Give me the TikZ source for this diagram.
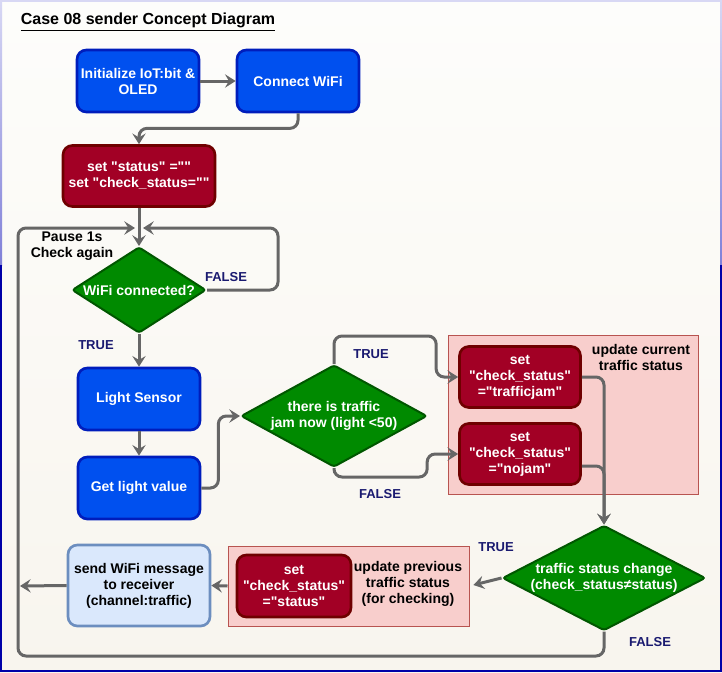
\documentclass[tikz,border=0pt]{standalone}
\usepackage{fontspec}
\setmainfont{Liberation Sans}[Ligatures=TeXOff]
\usetikzlibrary{calc,arrows.meta,shapes.geometric}

\definecolor{bgtop}{HTML}{FDFDFB}
\definecolor{bgbot}{HTML}{F8F5EE}
\definecolor{frametop}{HTML}{D8D8F4}
\definecolor{framemid}{HTML}{8080D8}
\definecolor{framebot}{HTML}{0000A8}
\definecolor{bluefill}{HTML}{0050EF}
\definecolor{blueline}{HTML}{001DBC}
\definecolor{redfill}{HTML}{A20025}
\definecolor{redline}{HTML}{6F0000}
\definecolor{greenfill}{HTML}{008A00}
\definecolor{greenline}{HTML}{005700}
\definecolor{sendfill}{HTML}{DAE8FC}
\definecolor{sendline}{HTML}{6C8EBF}
\definecolor{groupfill}{HTML}{F8CECC}
\definecolor{groupline}{HTML}{B85450}
\definecolor{arrowgray}{HTML}{666666}
\definecolor{labelnavy}{HTML}{1A1A70}

\begin{document}
\begin{tikzpicture}[x=0.75pt, y=-0.75pt,
	every node/.style={font=\fontsize{10.5}{12}\selectfont\bfseries, align=center},
	process/.style={rectangle, rounded corners=7pt, line width=2pt, text=white, inner sep=2pt},
	bluebox/.style={process, fill=bluefill, draw=blueline, minimum width=91.5pt, minimum height=46.5pt},
	redbox/.style={process, fill=redfill, draw=redline, minimum height=45.75pt},
	decision/.style={diamond, fill=greenfill, draw=greenline, line width=1.5pt, text=white, inner sep=0pt, rounded corners=2pt},
	groupbox/.style={rectangle, fill=groupfill, draw=groupline, line width=0.75pt},
	note/.style={text=black},
	answer/.style={text=labelnavy, font=\fontsize{9.75}{11}\selectfont\bfseries},
	flow/.style={draw=arrowgray, line width=2.25pt, rounded corners=6pt, -{Stealth[length=8pt, width=10pt, inset=3pt]}},
]

	% ---- page

	\useasboundingbox (0,0) rectangle (722,672);
	\shade[top color=bgtop, bottom color=bgbot] (0,0) rectangle (722,672);
	\fill[frametop] (0,0) rectangle (722,1.5);
	\shade[top color=frametop, bottom color=framemid] (0,0) rectangle (2,265);
	\shade[top color=frametop, bottom color=framemid] (720,0) rectangle (722,265);
	\fill[framebot] (0,265) rectangle (2,672);
	\fill[framebot] (720,265) rectangle (722,672);
	\fill[framebot] (0,670) rectangle (722,672);

	\node[note, font=\fontsize{12}{14}\selectfont\bfseries] (title) at (148,22) {\underline{Case 08 sender Concept Diagram}};

	% ---- groups

	\node[groupbox, minimum width=187.5pt, minimum height=119.25pt] (current) at (573,414.5) {};
	\node[groupbox, minimum width=180.75pt, minimum height=60pt] (previous) at (348.5,586) {};

	% ---- steps

	\node[bluebox] (init) at (138,81) {Initialize IoT:bit \&\\OLED};
	\node[bluebox] (wifi) at (298,81) {Connect WiFi};
	\node[redbox, minimum width=114pt] (reset) at (139,176) {set "status" =""\\set "check\_status=""};
	\node[decision, aspect=1.56, minimum width=100.5pt, minimum height=64.5pt] (chk) at (139,290) {WiFi connected?};
	\node[bluebox] (sensor) at (139,399) {Light Sensor};
	\node[bluebox] (value) at (139,488) {Get light value};
	\node[decision, aspect=1.82, minimum width=139.5pt, minimum height=76.5pt] (jam) at (334,416) {there is traffic\\jam now (light <50)};
	\node[redbox, minimum width=90.75pt] (tj) at (520,377) {set\\"check\_status"\\="trafficjam"};
	\node[redbox, minimum width=90.75pt] (nj) at (520,454) {set\\"check\_status"\\="nojam"};
	\node[decision, aspect=1.93, inner xsep=-5pt, minimum width=152.25pt, minimum height=78.75pt] (chg) at (604,578) {traffic status change\\(check\_status≠status)};
	\node[redbox, minimum width=85.5pt, minimum height=46.5pt] (keep) at (294,586) {set\\"check\_status"\\="status"};
	\node[process, fill=sendfill, draw=sendline, text=black, minimum width=106.5pt, minimum height=60.75pt] (send) at (139,585.5) {send WiFi message\\to receiver\\(channel:traffic)};

	% ---- notes

	\node[note] (pause) at (72,246) {Pause 1s\\Check again};
	\node[note] (curnote) at (641,357) {update current\\traffic status};
	\node[note] (prevnote) at (408,584) {update previous\\traffic status\\(for checking)};

	\node[answer] (chkno) at (226,277) {FALSE};
	\node[answer] (chkyes) at (96,345) {TRUE};
	\node[answer] (jamyes) at (371,354) {TRUE};
	\node[answer] (jamno) at (380,494) {FALSE};
	\node[answer] (chgyes) at (496,547) {TRUE};
	\node[answer] (chgno) at (650,642) {FALSE};

	% ---- loop points

	\coordinate (mergeL) at (135,228);
	\coordinate (mergeR) at (143,228);
	\coordinate (loopT) at (18,228);
	\coordinate (loopB) at (18,656);
	\coordinate (loopS) at (20,586);

	% ---- connectors

	\draw[flow] (init) -- (wifi);
	\draw[flow] (wifi.south) -- ++(0,15) -| (reset.north);
	\draw[flow] (reset) -- (chk);
	\draw[flow] (chk.east) -- ++(71,0) |- (mergeR);
	\draw[flow] (chk) -- (sensor);
	\draw[flow] (sensor) -- (value);
	\draw[flow] (value.east) -- ++(17,0) |- (jam.west);
	\draw[flow] (jam.north) -- ++(0,-28) -| ($(tj.west)+(-22,0)$) -- (tj.west);
	\draw[flow] (jam.south) -- ++(0,9) -| ($(nj.west)+(-31,0)$) -- (nj.west);
	\draw[flow] (tj.east) -| (chg.north);
	\draw[flow] ($(nj.east)+(0,12)$) -| (chg.north);
	\draw[flow, shorten >=3pt] (chg.west) -- (previous.east);
	\draw[flow] (previous.west) -- (send.east);
	\draw[flow] (send.west) -- (loopS);
	\draw[flow] (chg.south) |- (loopB) -- (loopT) -- (mergeL);

\end{tikzpicture}
\end{document}
